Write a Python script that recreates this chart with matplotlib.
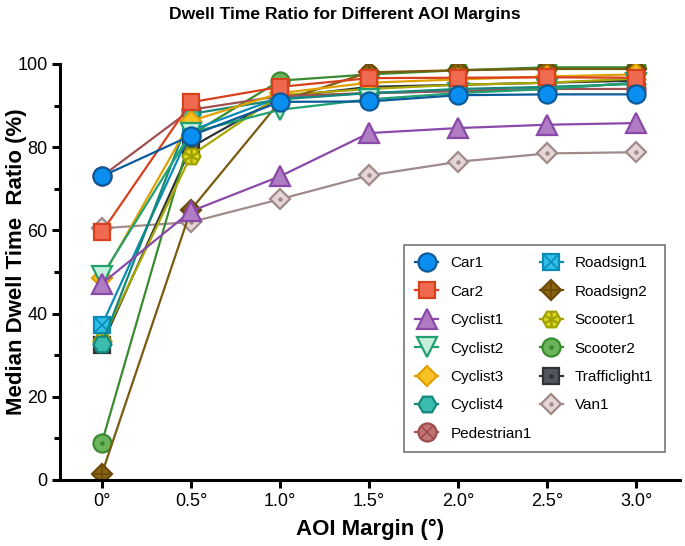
import matplotlib
matplotlib.use("Agg")
import matplotlib.pyplot as plt
from matplotlib.lines import Line2D
from matplotlib.legend_handler import HandlerTuple
from matplotlib.ticker import MultipleLocator

plt.rcParams['font.family'] = ['Liberation Sans', 'DejaVu Sans']

margins = [0, 0.5, 1.0, 1.5, 2.0, 2.5, 3.0]
x_labels = ["0°", "0.5°", "1.0°", "1.5°", "2.0°", "2.5°", "3.0°"]

names = ["Car1", "Car2", "Cyclist1", "Cyclist2", "Cyclist3", "Cyclist4", "Pedestrian1",
         "Roadsign1", "Roadsign2", "Scooter1", "Scooter2", "Trafficlight1", "Van1"]

car1 = [73.0, 82.8, 90.9, 91.0, 92.5, 92.7, 92.7]
car2 = [59.6, 90.8, 94.5, 96.6, 96.7, 96.8, 96.7]
cyclist1 = [47.2, 64.6, 73.0, 83.4, 84.6, 85.4, 85.8]
cyclist2 = [49.0, 83.5, 89.0, 91.5, 93.0, 94.0, 95.5]
cyclist3 = [48.5, 86.3, 93.0, 95.5, 96.3, 97.0, 97.5]
cyclist4 = [32.7, 88.0, 91.5, 93.0, 94.0, 94.5, 95.2]
pedestrian1 = [73.0, 89.0, 92.3, 93.0, 93.5, 94.0, 94.0]
roadsign1 = [37.2, 84.0, 92.0, 93.0, 93.5, 94.0, 95.5]
roadsign2 = [1.5, 65.0, 91.0, 98.0, 98.5, 98.8, 98.8]
scooter1 = [33.5, 78.0, 92.5, 94.0, 95.0, 95.5, 96.5]
scooter2 = [9.0, 83.0, 96.0, 97.5, 98.5, 99.2, 99.2]
trafficlight1 = [32.5, 80.0, 92.0, 94.5, 95.0, 95.5, 96.0]
van1 = [60.5, 62.0, 67.5, 73.2, 76.5, 78.5, 78.8]

series = [car1, car2, cyclist1, cyclist2, cyclist3, cyclist4, pedestrian1,
          roadsign1, roadsign2, scooter1, scooter2, trafficlight1, van1]

ASTER = (6, 2, 0)
# (marker, size, fill, edge, line color, inner symbol, inner size)
styles = [
    ("o", 13, "#0a8ff0", "#0a5a9a", "#0a5a9a", None, 0),
    ("s", 12, "#f06a50", "#d8401c", "#d8401c", None, 0),
    ("^", 14, "#b07cc4", "#8a48a8", "#8a48a8", None, 0),
    ("v", 14, "#c4f0dc", "#22a070", "#22a070", None, 0),
    ("D", 10, "#f8c224", "#e0a000", "#e0a000", None, 0),
    ("H", 13, "#3cbcae", "#14887a", "#14887a", None, 0),
    ("o", 13, "#c07474", "#a04c4c", "#a05050", "x", 8.5),
    ("s", 12, "#30c0ea", "#0a8cb8", "#0a8cb8", "x", 10),
    ("D", 10, "#8a6212", "#6a4a08", "#7a5a10", "+", 11),
    ("H", 13, "#d8d424", "#a0a000", "#a8a800", ASTER, 10),
    ("o", 13, "#6cb45c", "#3a8a30", "#3a8a30", ".", 4.5),
    ("s", 12, "#50565e", "#303438", "#303438", ".", 4.5),
    ("D", 10, "#e4d6d6", "#a08a8a", "#a08a8a", ".", 4.0),
]

fig = plt.figure(figsize=(6.85, 5.46), dpi=100)
ax = fig.add_axes([60/685, 66/546, 620/685, 416/546])

handles = []
n = len(series)
for i, (name, vals, st) in enumerate(zip(names, series, styles)):
    mk, ms, fc, ec, lc, inner, ims = st
    z = 10 + 3 * (n - i)
    ax.plot(margins, vals, color=lc, lw=1.6, zorder=z - 1)
    ax.plot(margins, vals, ls="none", marker=mk, ms=ms, mfc=fc, mec=ec, mew=1.6, zorder=z)
    h_main = Line2D([], [], color=lc, lw=1.6, marker=mk, ms=ms, mfc=fc, mec=ec, mew=1.6)
    if inner is not None:
        ax.plot(margins, vals, ls="none", marker=inner, ms=ims, mfc=ec, mec=ec, mew=1.2,
                zorder=z + 0.5)
        h_in = Line2D([], [], ls="none", marker=inner, ms=ims, mfc=ec, mec=ec, mew=1.2)
        handles.append((h_main, h_in))
    else:
        handles.append(h_main)

ax.set_xlim(-0.235, 3.245)
ax.set_ylim(0, 100)
ax.set_xticks(margins)
ax.set_xticklabels(x_labels)
ax.yaxis.set_major_locator(MultipleLocator(20))
ax.yaxis.set_minor_locator(MultipleLocator(10))

for s in ["top", "right"]:
    ax.spines[s].set_visible(False)
for s in ["left", "bottom"]:
    ax.spines[s].set_linewidth(2.2)
    ax.spines[s].set_color("black")
ax.spines["bottom"].set_zorder(100)
ax.tick_params(axis="both", which="major", length=6, width=2.2, labelsize=13, pad=3)
ax.tick_params(axis="y", which="minor", length=4, width=2.2)

ax.set_xlabel("AOI Margin (°)", fontsize=16, fontweight="bold", labelpad=7)
ax.set_ylabel("Median Dwell Time  Ratio (%)", fontsize=16, fontweight="bold")
ax.yaxis.set_label_coords((27 - 60) / 620, 0.524)
fig.text(0.503, 0.988, "Dwell Time Ratio for Different AOI Margins", ha="center", va="top",
         fontsize=12.6, fontweight="bold")

leg = ax.legend(handles, names, ncol=2, loc="upper left",
                bbox_to_anchor=((404 - 60) / 620, (480 - 245) / 416),
                handler_map={tuple: HandlerTuple(ndivide=1, pad=0)},
                fontsize=11, frameon=True, fancybox=False, edgecolor="#555555",
                handlelength=1.5, handletextpad=0.8, columnspacing=0.5,
                labelspacing=0.94, borderpad=0.75, borderaxespad=0)
leg.get_frame().set_linewidth(1.2)
leg.set_zorder(200)

fig.savefig("out.png", dpi=100)
